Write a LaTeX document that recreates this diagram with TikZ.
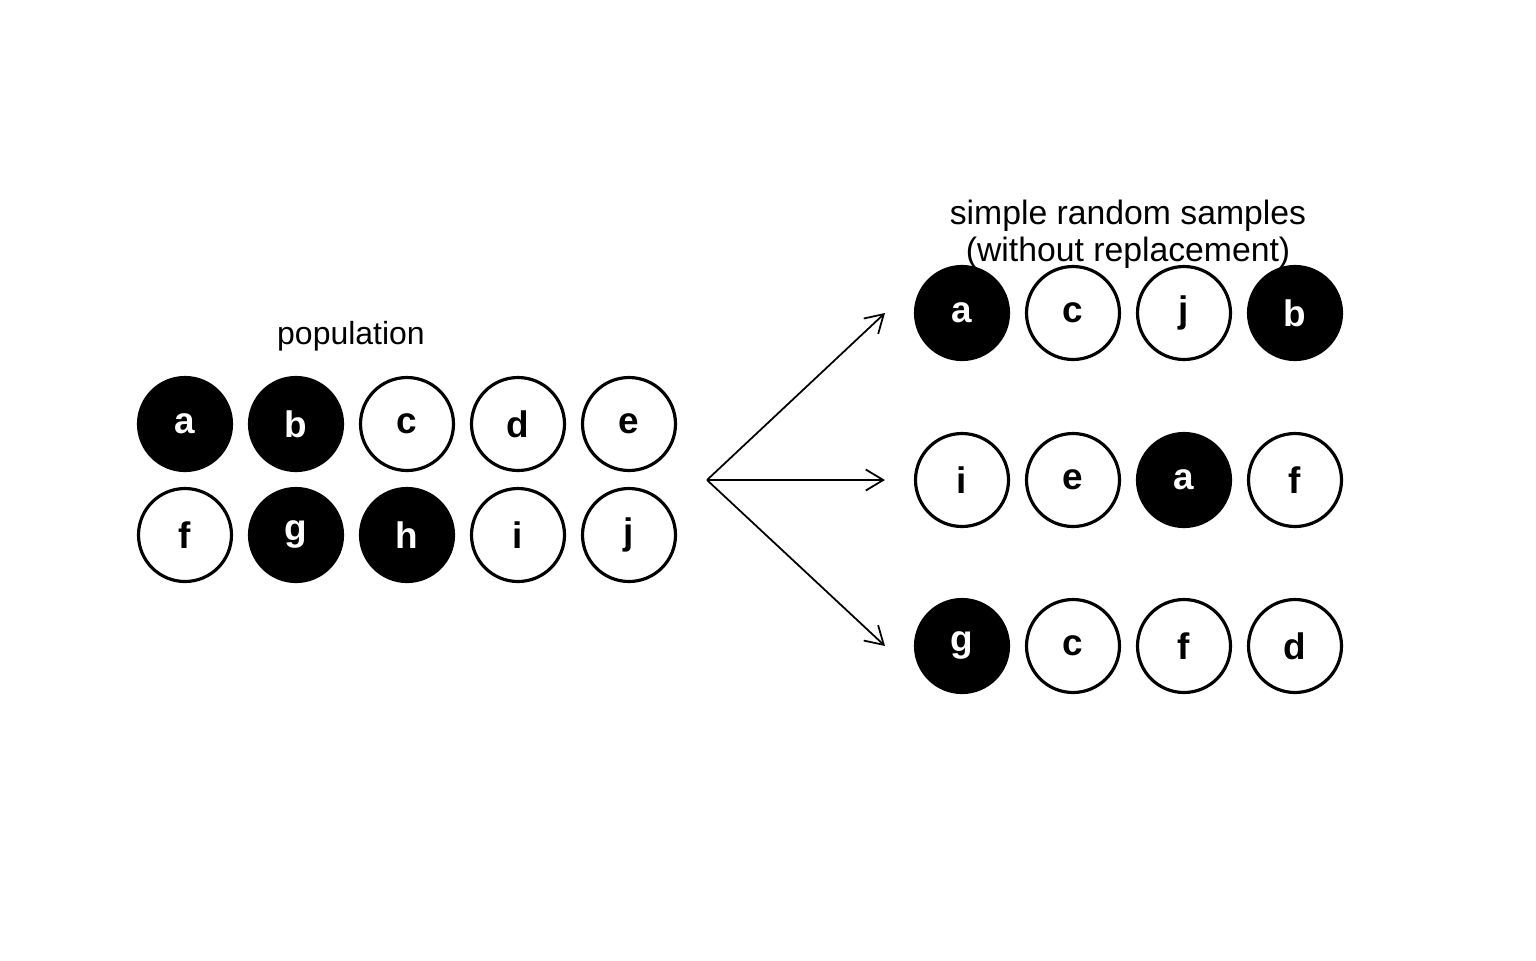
\documentclass[tikz,border=0pt]{standalone}
\usepackage{fontspec}
\setmainfont{Liberation Sans}[BoldFont=Liberation Sans Bold]
\usetikzlibrary{arrows.meta}

\tikzset{
  unit/.style={circle, draw=black, line width=0.9pt, minimum size=0.93cm,
    inner sep=0pt, text height=0pt, text depth=0pt,
    font=\fontsize{10.5}{12}\selectfont\bfseries},
  hit/.style={unit, fill=black, text=white},
  miss/.style={unit, fill=white, text=black},
  % baseline sits on the circle centre, the letter is lowered by half its ink
  drop/.style={execute at begin node={\lower#1\hbox\bgroup},
    execute at end node={\egroup}},
  xh/.style={drop=2.8pt},
  asc/.style={drop=3.8pt},
  dsc/.style={drop=1.7pt},
  both/.style={drop=2.7pt},
  lbl/.style={font=\fontsize{9.1}{10.5}\selectfont, align=center},
  ttl/.style={font=\fontsize{9.6}{10.6}\selectfont, align=center},
  pick/.style={line width=0.5pt, -{Straight Barb[length=5pt,width=6pt]}}
}

\begin{document}
\begin{tikzpicture}
      \useasboundingbox (0,0) rectangle (15.36,9.6);

      % population
      \node[lbl] (poplbl) at (3.51, 6.24) {population};

      \node[hit,xh]   (pa) at (1.85, 5.36) {a};
      \node[hit,asc]  (pb) at (2.96, 5.36) {b};
      \node[miss,xh]  (pc) at (4.07, 5.36) {c};
      \node[miss,asc] (pd) at (5.18, 5.36) {d};
      \node[miss,xh]  (pe) at (6.29, 5.36) {e};

      \node[miss,asc] (pf) at (1.85, 4.25) {f};
      \node[hit,dsc]  (pg) at (2.96, 4.25) {g};
      \node[hit,asc]  (ph) at (4.07, 4.25) {h};
      \node[miss,asc] (pi) at (5.18, 4.25) {i};
      \node[miss,both] (pj) at (6.29, 4.25) {j};

      % arrows
      \coordinate (fork) at (7.07, 4.80);
      \coordinate (tipa) at (8.85, 6.47);
      \coordinate (tipb) at (8.85, 4.80);
      \coordinate (tipc) at (8.85, 3.14);
      \draw[pick] (fork) -- (tipa);
      \draw[pick] (fork) -- (tipb);
      \draw[pick] (fork) -- (tipc);

      % samples
      \node[ttl] (srslbl) at (11.28, 7.26)
        {simple random samples\\(without replacement)};

      \node[hit,xh]    (sa1) at (9.62, 6.47) {a};
      \node[miss,xh]   (sc1) at (10.73, 6.47) {c};
      \node[miss,both] (sj1) at (11.84, 6.47) {j};
      \node[hit,asc]   (sb1) at (12.95, 6.47) {b};

      \node[miss,asc]  (si2) at (9.62, 4.80) {i};
      \node[miss,xh]   (se2) at (10.73, 4.80) {e};
      \node[hit,xh]    (sa2) at (11.84, 4.80) {a};
      \node[miss,asc]  (sf2) at (12.95, 4.80) {f};

      \node[hit,dsc]   (sg3) at (9.62, 3.14) {g};
      \node[miss,xh]   (sc3) at (10.73, 3.14) {c};
      \node[miss,asc]  (sf3) at (11.84, 3.14) {f};
      \node[miss,asc]  (sd3) at (12.95, 3.14) {d};
\end{tikzpicture}
\end{document}
